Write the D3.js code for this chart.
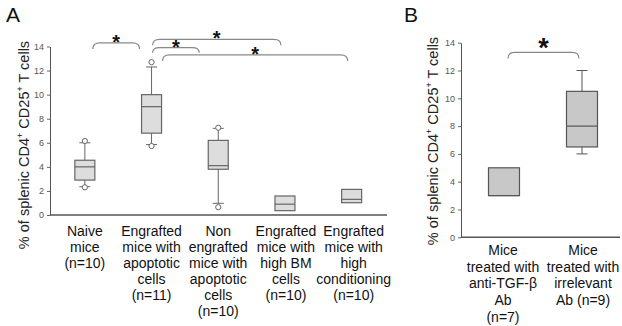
<!DOCTYPE html>
<html>
<head>
<meta charset="utf-8">
<script src="https://cdn.jsdelivr.net/npm/d3@7"></script>
<style>
  body { margin: 0; background: #fff; }
  svg { font-family: "Liberation Sans", Arial, sans-serif; }
  .tick text { fill: #555; font-size: 9px; }
  .tick line { stroke: #666; }
  .domain { stroke: #555; }
</style>
</head>
<body>
<div id="chart"></div>
<script>
// panel A
const catsA = [
  ["Naive", "mice", "(n=10)"],
  ["Engrafted", "mice with", "apoptotic", "cells", "(n=11)"],
  ["Non", "engrafted", "mice with", "apoptotic", "cells", "(n=10)"],
  ["Engrafted", "mice with", "high BM", "cells", "(n=10)"],
  ["Engrafted", "mice with", "high", "conditioning", "(n=10)"]
];
const minA = [2.35, 5.85, 0.97, null, null];
const q1A = [2.9, 6.8, 3.8, 0.36, 1.02];
const medA = [4.0, 9.0, 4.1, 0.9, 1.3];
const q3A = [4.55, 10.0, 6.2, 1.58, 2.13];
const maxA = [6.0, 12.3, 7.2, null, null];
const outA = [[2.3, 6.15], [5.73, 12.7], [0.65, 7.25], [], []];
// brackets: [from index, to index, level]
const brA = [[0, 1, 14.3], [1, 2, 13.9], [1, 3, 14.6], [1, 4, 13.3]];

// panel B
const catsB = [
  ["Mice", "treated with", "anti-TGF-β", "Ab", "(n=7)"],
  ["Mice", "treated with", "irrelevant", "Ab (n=9)"]
];
const minB = [null, 6.0];
const q1B = [3.0, 6.5];
const medB = [3.0, 8.0];
const q3B = [5.0, 10.5];
const maxB = [null, 12.0];
const brB = [[0, 1, 13.3]];

const yTicks = [0, 2, 4, 6, 8, 10, 12, 14];

const svg = d3.select("#chart").append("svg")
  .attr("width", 622).attr("height", 326);

function bracketPath(x1, x2, y, drop) {
  const r = 7;
  return `M${x1},${y + drop}Q${x1},${y} ${x1 + r},${y}L${x2 - r},${y}Q${x2},${y} ${x2},${y + drop}`;
}

function panel(opt) {
  const g = svg.append("g");
  const y = d3.scaleLinear().domain([0, 14]).range([opt.y0, opt.y14]);
  const x = d3.scaleBand().domain(d3.range(opt.cats.length))
    .range([opt.bandL, opt.bandR]);

  g.append("g").attr("transform", `translate(${opt.x0},0)`)
    .call(d3.axisLeft(y).tickValues(yTicks).tickSize(3).tickSizeOuter(0).tickPadding(3))
    .call(a => a.select(".domain").attr("stroke", "#555"));

  g.append("line")
    .attr("x1", opt.x0).attr("x2", opt.xEnd)
    .attr("y1", opt.y0).attr("y2", opt.y0)
    .attr("stroke", "#555").attr("stroke-width", 1.6);

  g.append("text")
    .attr("transform", `translate(${opt.titleX},${opt.titleY}) rotate(-90)`)
    .attr("text-anchor", "middle")
    .attr("font-size", opt.titleSize)
    .attr("fill", "#222")
    .html('% of splenic CD4<tspan dy="-6" font-size="9">+</tspan><tspan dy="6"> CD25</tspan><tspan dy="-6" font-size="9">+</tspan><tspan dy="6"> T cells</tspan>');

  const cx = i => x(i) + x.bandwidth() / 2;
  const bw = opt.boxW;

  opt.cats.forEach((c, i) => {
    const bx = g.append("g");
    if (opt.max[i] != null) {
      bx.append("line").attr("x1", cx(i)).attr("x2", cx(i))
        .attr("y1", y(opt.q3[i])).attr("y2", y(opt.max[i])).attr("stroke", opt.stroke);
      bx.append("line").attr("x1", cx(i) - opt.capW / 2).attr("x2", cx(i) + opt.capW / 2)
        .attr("y1", y(opt.max[i])).attr("y2", y(opt.max[i])).attr("stroke", opt.stroke);
    }
    if (opt.min[i] != null) {
      bx.append("line").attr("x1", cx(i)).attr("x2", cx(i))
        .attr("y1", y(opt.q1[i])).attr("y2", y(opt.min[i])).attr("stroke", opt.stroke);
      bx.append("line").attr("x1", cx(i) - opt.capW / 2).attr("x2", cx(i) + opt.capW / 2)
        .attr("y1", y(opt.min[i])).attr("y2", y(opt.min[i])).attr("stroke", opt.stroke);
    }
    bx.append("rect")
      .attr("x", cx(i) - bw / 2).attr("width", bw)
      .attr("y", y(opt.q3[i])).attr("height", y(opt.q1[i]) - y(opt.q3[i]))
      .attr("fill", opt.fill).attr("stroke", opt.stroke).attr("stroke-width", 1.2);
    bx.append("line")
      .attr("x1", cx(i) - bw / 2).attr("x2", cx(i) + bw / 2)
      .attr("y1", y(opt.med[i])).attr("y2", y(opt.med[i]))
      .attr("stroke", opt.stroke).attr("stroke-width", 1.2);
    (opt.out ? opt.out[i] : []).forEach(v => {
      bx.append("circle").attr("cx", cx(i)).attr("cy", y(v)).attr("r", 2.6)
        .attr("fill", "#fff").attr("stroke", "#666");
    });

    const t = g.append("text").attr("text-anchor", "middle")
      .attr("font-size", opt.labelSize).attr("fill", "#111");
    c.forEach((line, k) => {
      t.append("tspan").attr("x", cx(i) + (opt.labShift ? opt.labShift[i] : 0))
        .attr("y", opt.labelY + k * opt.lineH).text(line);
    });
  });

  opt.brackets.forEach(([a, b, lv], k) => {
    const off = opt.brOff[k];
    const x1 = cx(a) + off[0], x2 = cx(b) + off[1];
    g.append("path").attr("d", bracketPath(x1, x2, y(lv), off[2]))
      .attr("fill", "none").attr("stroke", "#888").attr("stroke-width", 1.2);
    g.append("text").attr("x", (x1 + x2) / 2).attr("y", y(lv) + opt.starDy)
      .attr("text-anchor", "middle").attr("font-size", opt.starSize)
      .attr("font-weight", "bold").attr("fill", "#111").text("*");
  });

  svg.append("text").attr("x", opt.letterX).attr("y", 22)
    .attr("font-size", 21).attr("fill", "#111").text(opt.letter);
}

panel({
  letter: "A", letterX: 6,
  cats: catsA, min: minA, q1: q1A, med: medA, q3: q3A, max: maxA, out: outA,
  brackets: brA,
  brOff: [[8, -12, 6], [1, -19, 5], [1, -4, 6], [11, -4, 6]],
  x0: 50, bandL: 51.5, bandR: 385, xEnd: 387, y0: 215, y14: 46.5,
  boxW: 20, capW: 11, fill: "#ddd", stroke: "#666",
  labelY: 236, lineH: 16, labelSize: 14,
  titleX: 29, titleY: 145, titleSize: 14.5,
  starDy: 6, starSize: 20,
  labShift: [0, 0, 0, 1, 2]
});

panel({
  letter: "B", letterX: 404,
  cats: catsB, min: minB, q1: q1B, med: medB, q3: q3B, max: maxB, out: null,
  brackets: brB,
  brOff: [[4, -3, 6]],
  x0: 461, bandL: 465, bandR: 621, xEnd: 620, y0: 237.3, y14: 42.7,
  boxW: 31, capW: 11, fill: "#c8c8c8", stroke: "#555",
  labelY: 255, lineH: 16.7, labelSize: 14,
  titleX: 438, titleY: 141, titleSize: 14.5,
  starDy: 5, starSize: 27,
  labShift: [-1, 1]
});
</script>
</body>
</html>
